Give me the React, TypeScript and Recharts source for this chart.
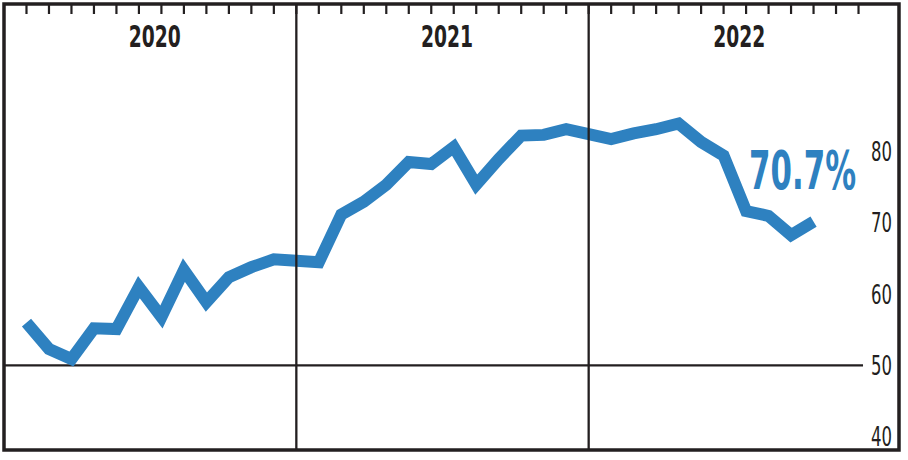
import React from "react";
import {
  LineChart,
  Line,
  XAxis,
  YAxis,
  ReferenceLine,
  ReferenceArea,
  LabelList
} from "recharts";

// monthly share, Jan 2020 onward (index = month number)
const values = [
  56.0, 52.3, 50.9, 55.2, 55.1, 61.0, 56.8, 63.4, 58.9, 62.4, 63.8, 64.9,
  64.7, 64.5, 71.2, 73.0, 75.4, 78.6, 78.3, 80.7, 75.4, 79.0, 82.3, 82.4,
  83.2, 82.5, 81.8, 82.6, 83.2, 84.0, 81.4, 79.5, 71.7, 71.0, 68.3, 70.2
];
const years = ["2020", "2021", "2022"];
const yearCenters = [5.7, 18.7, 31.7];
const yearDividers = [12, 25];
const monthTicks = Array.from({ length: 38 }, (_, i) => i);
const yTicks = [40, 50, 60, 70, 80];
const lastLabel = "70.7%";

const data = values.map((v, i) => ({ i, v }));

const INK = "#231f20";
const BLUE = "#2e81c0";
const FONT = "'Liberation Sans Narrow', 'DejaVu Sans Condensed', 'DejaVu Sans', sans-serif";

const TopTick = (props: any) => {
  const { x, y, payload } = props;
  const idx = yearCenters.indexOf(payload.value);
  if (idx >= 0) {
    return (
      <text
        x={x}
        y={y + 43}
        textAnchor="middle"
        fontFamily={FONT}
        fontStretch="condensed"
        fontWeight="bold"
        fontSize={30}
        fill={INK}
        textLength={52}
        lengthAdjust="spacingAndGlyphs"
      >
        {years[idx]}
      </text>
    );
  }
  return <line x1={x} x2={x} y1={y} y2={y + 10} stroke={INK} strokeWidth={2.2} />;
};

const RightTick = (props: any) => {
  const { x, y, payload } = props;
  return (
    <text
      x={x - 7}
      y={y + 9.3}
      textAnchor="end"
      fontFamily={FONT}
      fontStretch="condensed"
      fontSize={26}
      fill={INK}
      textLength={21}
      lengthAdjust="spacingAndGlyphs"
    >
      {payload.value}
    </text>
  );
};

const EndLabel = (props: any) => {
  const { x, y, index } = props;
  if (index !== values.length - 1) return null;
  return (
    <text
      x={x + 42.5}
      y={y - 32.5}
      textAnchor="end"
      fontFamily={FONT}
      fontStretch="condensed"
      fontWeight="bold"
      fontSize={53}
      fill={BLUE}
      textLength={107}
      lengthAdjust="spacingAndGlyphs"
    >
      {lastLabel}
    </text>
  );
};

export default function App() {
  return (
    <div style={{ width: 908, height: 460, background: "#fff" }}>
      <style>{"body{margin:0}"}</style>
      <LineChart
        width={908}
        height={460}
        data={data}
        margin={{ top: 4, right: 9, bottom: 10, left: 4 }}
      >
        <XAxis
          dataKey="i"
          type="number"
          domain={[-1, 38.8]}
          allowDataOverflow
          orientation="top"
          mirror
          ticks={[...monthTicks, ...yearCenters]}
          interval={0}
          tickSize={0}
          tickMargin={0}
          tickLine={false}
          axisLine={false}
          tick={TopTick}
        />
        <YAxis
          type="number"
          domain={[38.1, 100.8]}
          allowDataOverflow
          orientation="right"
          mirror
          ticks={yTicks}
          interval={0}
          tickSize={0}
          tickMargin={0}
          tickLine={false}
          axisLine={false}
          tick={RightTick}
        />
        <ReferenceLine
          segment={[
            { x: -1, y: 50 },
            { x: 37.2, y: 50 }
          ]}
          stroke={INK}
          strokeWidth={2.3}
          ifOverflow="visible"
        />
        <Line
          type="linear"
          dataKey="v"
          stroke={BLUE}
          strokeWidth={12}
          strokeLinejoin="miter"
          strokeLinecap="butt"
          dot={false}
          activeDot={false}
          isAnimationActive={false}
        >
          <LabelList dataKey="v" content={EndLabel} />
        </Line>
        {yearDividers.map((d) => (
          <ReferenceLine key={d} x={d} stroke={INK} strokeWidth={2.3} />
        ))}
        <ReferenceArea
          x1={-1}
          x2={38.8}
          y1={38.1}
          y2={100.8}
          fill="none"
          stroke={INK}
          strokeWidth={3.5}
          ifOverflow="visible"
        />
      </LineChart>
    </div>
  );
}
